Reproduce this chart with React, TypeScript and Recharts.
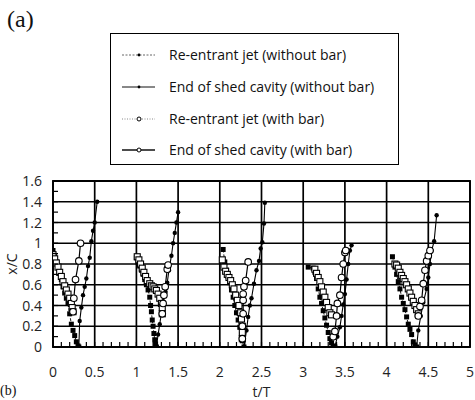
import React from 'react';
import { LineChart, Line, XAxis, YAxis, CartesianGrid, Legend, ReferenceArea } from 'recharts';

type Pt = [number, number];

// ---- tick values ----
const xMajorTicks = [0, 0.5, 1, 1.5, 2, 2.5, 3, 3.5, 4, 4.5, 5];
const yMajorTicks = [0, 0.2, 0.4, 0.6, 0.8, 1, 1.2, 1.4, 1.6];
const xMinorTicks = Array.from({ length: 51 }, (_, i) => i / 10);
const yMinorTicks = Array.from({ length: 17 }, (_, i) => i / 10);

// ---- series: [t/T, x/C] grouped by shedding cycle ----
const jetNoBar: Pt[][] = [
  [[0, 0.93], [0.02, 0.87], [0.04, 0.82], [0.06, 0.77], [0.08, 0.71], [0.1, 0.65], [0.12, 0.58], [0.14, 0.52], [0.16, 0.47], [0.18, 0.42], [0.2, 0.32], [0.22, 0.22], [0.24, 0.16], [0.26, 0.11], [0.28, 0.05], [0.3, 0.01], [0.31, 0]],
  [[1.0, 0.86], [1.02, 0.82], [1.04, 0.78], [1.06, 0.74], [1.08, 0.7], [1.1, 0.65], [1.12, 0.6], [1.14, 0.55], [1.16, 0.48], [1.17, 0.4], [1.18, 0.34], [1.19, 0.26], [1.2, 0.2], [1.21, 0.13], [1.22, 0.07], [1.23, 0.03], [1.24, 0]],
  [[2.04, 0.94], [2.06, 0.82], [2.08, 0.74], [2.1, 0.68], [2.12, 0.62], [2.14, 0.55], [2.16, 0.48], [2.18, 0.4], [2.2, 0.33], [2.22, 0.26], [2.24, 0.19], [2.26, 0.12], [2.27, 0.06], [2.29, 0]],
  [[3.06, 0.77], [3.12, 0.76], [3.14, 0.72], [3.16, 0.66], [3.18, 0.56], [3.2, 0.48], [3.22, 0.42], [3.24, 0.35], [3.26, 0.28], [3.28, 0.21], [3.3, 0.14], [3.32, 0.08], [3.34, 0.04], [3.36, 0.01], [3.38, 0]],
  [[4.07, 0.87], [4.1, 0.77], [4.12, 0.7], [4.14, 0.63], [4.16, 0.56], [4.18, 0.48], [4.2, 0.42], [4.22, 0.36], [4.24, 0.29], [4.26, 0.22], [4.28, 0.17], [4.3, 0.12], [4.32, 0.05], [4.34, 0.02], [4.36, 0]],
];

const endNoBar: Pt[][] = [
  [[0.31, 0], [0.32, 0.25], [0.34, 0.38], [0.36, 0.5], [0.38, 0.58], [0.4, 0.66], [0.42, 0.78], [0.44, 0.86], [0.46, 1.02], [0.48, 1.12], [0.5, 1.2], [0.53, 1.4]],
  [[1.24, 0], [1.26, 0.12], [1.28, 0.22], [1.3, 0.33], [1.32, 0.44], [1.35, 0.53], [1.37, 0.62], [1.39, 0.74], [1.42, 0.88], [1.44, 1.0], [1.46, 1.1], [1.48, 1.2], [1.5, 1.3]],
  [[2.29, 0], [2.32, 0.16], [2.34, 0.29], [2.36, 0.4], [2.38, 0.47], [2.41, 0.61], [2.44, 0.74], [2.47, 0.83], [2.49, 0.95], [2.51, 1.01], [2.53, 1.19], [2.54, 1.39]],
  [[3.38, 0], [3.41, 0.1], [3.44, 0.19], [3.46, 0.3], [3.48, 0.41], [3.5, 0.51], [3.52, 0.65], [3.54, 0.8], [3.56, 0.93], [3.58, 0.98]],
  [[4.36, 0], [4.38, 0.16], [4.41, 0.3], [4.44, 0.43], [4.48, 0.56], [4.5, 0.67], [4.52, 0.8], [4.54, 0.93], [4.57, 1.02], [4.6, 1.27]],
];

const jetBar: Pt[][] = [
  [[0, 0.89], [0.02, 0.85], [0.04, 0.81], [0.06, 0.77], [0.08, 0.72], [0.1, 0.68], [0.12, 0.63], [0.14, 0.59], [0.16, 0.55], [0.18, 0.51], [0.2, 0.47], [0.22, 0.42], [0.23, 0.38], [0.24, 0.34]],
  [[1.01, 0.87], [1.03, 0.84], [1.05, 0.8], [1.07, 0.76], [1.09, 0.72], [1.11, 0.68], [1.13, 0.64], [1.16, 0.61], [1.18, 0.59], [1.2, 0.58], [1.22, 0.56], [1.24, 0.545], [1.26, 0.51], [1.28, 0.47], [1.3, 0.42], [1.31, 0.38], [1.31, 0.32]],
  [[2.03, 0.84], [2.05, 0.77], [2.07, 0.73], [2.09, 0.7], [2.11, 0.67], [2.13, 0.64], [2.15, 0.6], [2.17, 0.56], [2.19, 0.5], [2.21, 0.45], [2.23, 0.4], [2.25, 0.33], [2.26, 0.27], [2.27, 0.2], [2.27, 0.14], [2.27, 0.08]],
  [[3.14, 0.75], [3.16, 0.71], [3.18, 0.67], [3.2, 0.63], [3.22, 0.58], [3.24, 0.53], [3.26, 0.48], [3.28, 0.43], [3.3, 0.38], [3.32, 0.33], [3.34, 0.31]],
  [[4.1, 0.8], [4.12, 0.79], [4.14, 0.76], [4.16, 0.72], [4.18, 0.69], [4.2, 0.66], [4.22, 0.63], [4.24, 0.6], [4.26, 0.56], [4.28, 0.52], [4.3, 0.48], [4.32, 0.44], [4.34, 0.4], [4.36, 0.36], [4.38, 0.32]],
];

const endBar: Pt[][] = [
  [[0.24, 0.34], [0.25, 0.47], [0.27, 0.65], [0.31, 0.83], [0.33, 1.0]],
  [[1.31, 0.32], [1.32, 0.42], [1.33, 0.5], [1.345, 0.58], [1.37, 0.75], [1.38, 0.79]],
  [[2.27, 0.08], [2.27, 0.2], [2.28, 0.32], [2.28, 0.45], [2.28, 0.51], [2.29, 0.58], [2.31, 0.64], [2.34, 0.82]],
  [[3.36, 0.1], [3.38, 0.15], [3.4, 0.3], [3.41, 0.42], [3.44, 0.5], [3.46, 0.67], [3.48, 0.8], [3.5, 0.91], [3.51, 0.93]],
  [[4.38, 0.3], [4.4, 0.39], [4.42, 0.45], [4.44, 0.61], [4.46, 0.74], [4.48, 0.83], [4.5, 0.88], [4.52, 0.93]],
];

const legendNames = [
  'Re-entrant jet (without bar)',
  'End of shed cavity (without bar)',
  'Re-entrant jet (with bar)',
  'End of shed cavity (with bar)',
];

type Row = { t: number; v: number | null };
const toData = (cycles: Pt[][]): Row[] => {
  const out: Row[] = [];
  cycles.forEach((c, i) => {
    c.forEach(([t, v]) => out.push({ t, v }));
    if (i < cycles.length - 1) out.push({ t: c[c.length - 1][0] + 0.001, v: null });
  });
  return out;
};

const FONT = '"Open Sans", sans-serif';
const X_MARGIN = 20;
const Y_MARGIN = 11;
const AXIS_LEFT = 53;

const fmt = (v: number) => String(Math.round(v * 10) / 10);

const XTick = (props: any) => {
  const { x, y, payload } = props;
  const v = payload.value as number;
  const major = xMajorTicks.some((m) => Math.abs(m - v) < 1e-6);
  const ay = y - X_MARGIN;
  return (
    <g>
      <line x1={x} x2={x} y1={ay} y2={ay - 5} stroke="#000" strokeWidth={1.2} />
      {major && (
        <text x={x} y={y} dy="0.71em" textAnchor="middle" fontSize={14} fontFamily={FONT} fill="#222">
          {fmt(v)}
        </text>
      )}
    </g>
  );
};

const YTick = (props: any) => {
  const { x, y, payload } = props;
  const v = payload.value as number;
  const major = yMajorTicks.some((m) => Math.abs(m - v) < 1e-6);
  const ax = x + Y_MARGIN;
  return (
    <g>
      <line x1={ax} x2={ax + 5} y1={y} y2={y} stroke="#000" strokeWidth={1.2} />
      {major && (
        <text x={x} y={y} dy="0.36em" textAnchor="end" fontSize={14} fontFamily={FONT} fill="#222">
          {fmt(v)}
        </text>
      )}
    </g>
  );
};

const mkDot = (kind: string) => (p: any) => {
  const { cx, cy, index } = p;
  if (cx == null || cy == null || p.value == null) return <g key={`d-${index}`} />;
  if (kind === 'fsq') return <rect key={`d-${index}`} x={cx - 2.5} y={cy - 2.5} width={5} height={5} fill="#000" />;
  if (kind === 'osq') return <rect key={`d-${index}`} x={cx - 3} y={cy - 3} width={6} height={6} fill="#fff" stroke="#000" strokeWidth={1.1} />;
  if (kind === 'fdot') return <circle key={`d-${index}`} cx={cx} cy={cy} r={2.2} fill="#000" />;
  return <circle key={`d-${index}`} cx={cx} cy={cy} r={3.3} fill="#fff" stroke="#000" strokeWidth={1.1} />;
};

const legendSymbols = [
  { dash: '2 1.5', stroke: '#666', w: 1, marker: 'dot' },
  { dash: undefined, stroke: '#111', w: 1, marker: 'dot' },
  { dash: '1 1.5', stroke: '#888', w: 1, marker: 'ocirc' },
  { dash: undefined, stroke: '#111', w: 1.6, marker: 'ocirc' },
];
const legendCenters = [20.5, 52.5, 84.5, 115.5];

const renderLegend = () => (
  <div
    style={{
      width: 289,
      height: 132,
      border: '1.5px solid #000',
      boxSizing: 'border-box',
      position: 'relative',
      background: '#fff',
      fontFamily: FONT,
      fontSize: 14,
      color: '#111',
    }}
  >
    {legendNames.map((name, i) => {
      const s = legendSymbols[i];
      return (
        <div key={name} style={{ position: 'absolute', left: 0, top: legendCenters[i] - 10, height: 20, width: '100%' }}>
          <svg width={34} height={20} style={{ position: 'absolute', left: 11, top: 0 }}>
            <line x1={0} x2={33} y1={10} y2={10} stroke={s.stroke} strokeWidth={s.w} strokeDasharray={s.dash} />
            {s.marker === 'dot' ? (
              <circle cx={17} cy={10} r={1.4} fill="#000" />
            ) : (
              <circle cx={17} cy={10} r={2} fill="#fff" stroke="#000" strokeWidth={1} />
            )}
          </svg>
          <span style={{ position: 'absolute', left: 58, top: 0, lineHeight: '20px', whiteSpace: 'nowrap' }}>{name}</span>
        </div>
      );
    })}
  </div>
);

export default function App() {
  return (
    <div style={{ position: 'absolute', left: 0, top: 0, width: 475, height: 400, background: '#fff', overflow: 'hidden' }}>
      <LineChart width={475} height={400} margin={{ top: 181, right: 5, bottom: 20, left: 0 }} style={{ fontFamily: FONT }}>
        <CartesianGrid
          stroke="#000"
          strokeWidth={1.7}
          strokeDasharray=""
          verticalValues={xMajorTicks}
          horizontalValues={yMajorTicks}
        />
        <XAxis
          type="number"
          dataKey="t"
          domain={[0, 5]}
          ticks={xMinorTicks}
          interval={0}
          allowDataOverflow
          axisLine={false}
          tickLine={false}
          tickSize={0}
          tickMargin={X_MARGIN}
          height={33}
          tick={<XTick />}
          label={{ value: 't/T', position: 'bottom', offset: 7, fontSize: 14, fill: '#222', fontFamily: FONT }}
        />
        <YAxis
          type="number"
          domain={[0, 1.6]}
          ticks={yMinorTicks}
          interval={0}
          allowDataOverflow
          axisLine={false}
          tickLine={false}
          tickSize={0}
          tickMargin={Y_MARGIN}
          width={AXIS_LEFT}
          tick={<YTick />}
          label={{ value: 'x/C', angle: -90, position: 'insideLeft', offset: 12, fontSize: 14, fill: '#222', fontFamily: FONT, style: { textAnchor: 'middle' } }}
        />
        <ReferenceArea x1={0} x2={5} y1={0} y2={1.6} fill="none" stroke="#000" strokeWidth={1.8} fillOpacity={0} ifOverflow="visible" />
        <Line data={toData(jetNoBar)} dataKey="v" name={legendNames[0]} stroke="#000" strokeWidth={0.9} strokeDasharray="3 2" dot={mkDot('fsq')} isAnimationActive={false} connectNulls={false} />
        <Line data={toData(endNoBar)} dataKey="v" name={legendNames[1]} stroke="#000" strokeWidth={1.1} dot={mkDot('fdot')} isAnimationActive={false} connectNulls={false} />
        <Line data={toData(jetBar)} dataKey="v" name={legendNames[2]} stroke="#444" strokeWidth={0.9} strokeDasharray="1 2" dot={mkDot('osq')} isAnimationActive={false} connectNulls={false} />
        <Line data={toData(endBar)} dataKey="v" name={legendNames[3]} stroke="#000" strokeWidth={1.2} dot={mkDot('ocirc')} isAnimationActive={false} connectNulls={false} />
        <Legend
          layout="vertical"
          align="center"
          verticalAlign="middle"
          content={renderLegend}
          wrapperStyle={{ position: 'absolute', left: 110, top: 33, width: 289, height: 132 }}
        />
      </LineChart>
      <div style={{ position: 'absolute', left: 7, top: 7, fontFamily: '"Liberation Serif", serif', fontSize: 24, lineHeight: '24px', color: '#111' }}>(a)</div>
      <div style={{ position: 'absolute', left: 0, top: 384, fontFamily: '"Liberation Serif", serif', fontSize: 14, lineHeight: '14px', color: '#111' }}>(b)</div>
    </div>
  );
}
